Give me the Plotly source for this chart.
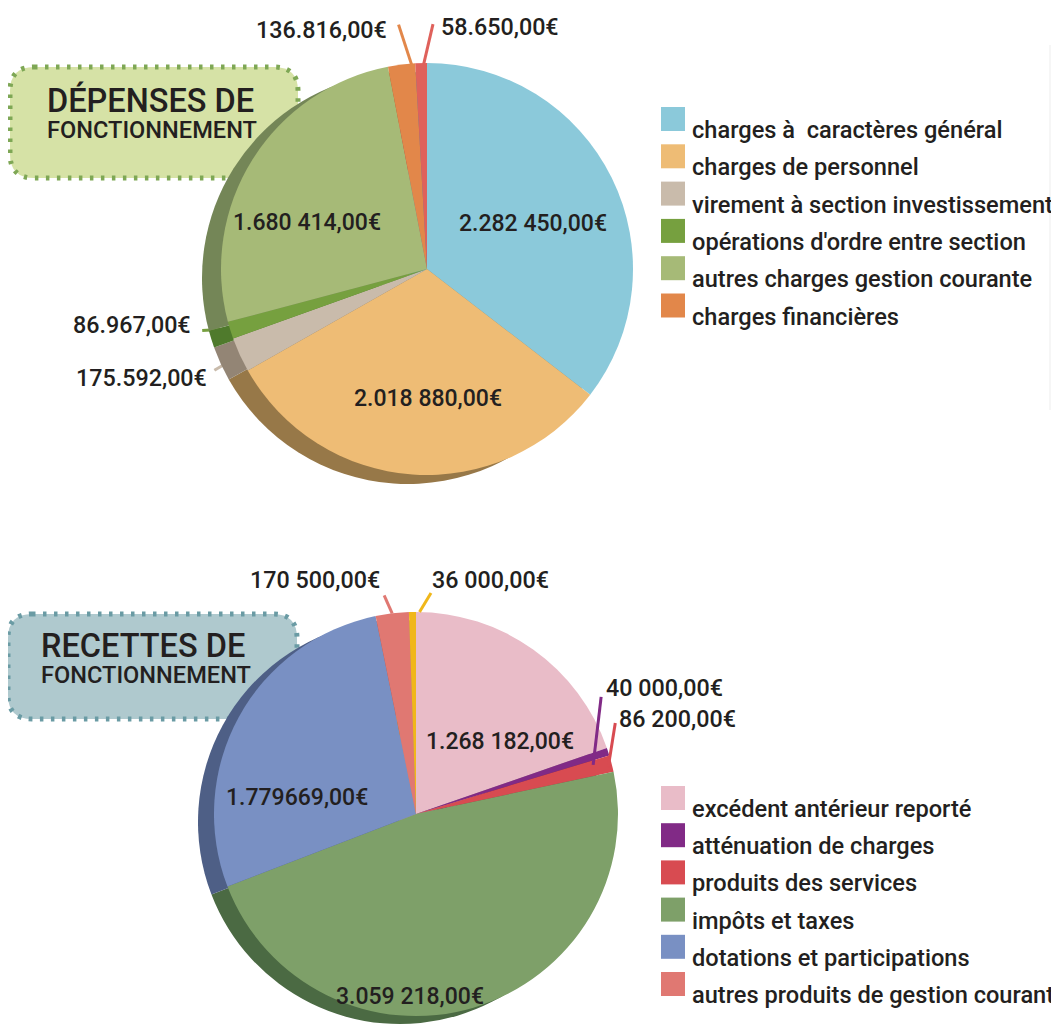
import math
import plotly.graph_objects as go

W, H = 1059, 1028
OFF = 8  # page body margin added by the browser
FONT = "Roboto"
INK = "#231f20"

# ---------------- data ----------------
dep_values = [2282450, 2018880, 175592, 86967, 1680414, 136816, 58650]
dep_texts = ["2.282 450,00€", "2.018 880,00€", "175.592,00€", "86.967,00€",
             "1.680 414,00€", "136.816,00€", "58.650,00€"]
dep_legend = ["charges à  caractères général", "charges de personnel",
              "virement à section investissement", "opérations d'ordre entre section",
              "autres charges gestion courante", "charges financières"]
dep_colors = ["#8bc9da", "#eebc75", "#c9bbab", "#76a03f", "#a6ba77", "#e2874a", "#df615b"]
dep_shadow = ["#5d8d99", "#977848", "#938575", "#4f7a2c", "#748657", "#9a5a31", "#9a4240"]

rec_values = [1268182, 40000, 86200, 3059218, 1779669, 170500, 36000]
rec_texts = ["1.268 182,00€", "40 000,00€", "86 200,00€", "3.059 218,00€",
             "1.779669,00€", "170 500,00€", "36 000,00€"]
rec_legend = ["excédent antérieur reporté", "atténuation de charges",
              "produits des services", "impôts et taxes",
              "dotations et participations", "autres produits de gestion courante"]
rec_colors = ["#e9bcc8", "#812a86", "#d84b51", "#7ea069", "#7990c3", "#e07872", "#f0b71a"]
rec_shadow = ["#a8878f", "#5a1d5e", "#973438", "#4b6a43", "#4e5f86", "#9c5450", "#a8800f"]

dep_title = ["DÉPENSES DE", "FONCTIONNEMENT"]
rec_title = ["RECETTES DE", "FONCTIONNEMENT"]

# ---------------- helpers ----------------
def px(x):
    return (x - OFF) / W


def py(y):
    return 1 - (y - OFF) / H


def dom(cx, cy, r):
    return dict(x=[px(cx - r), px(cx + r)], y=[py(cy + r), py(cy - r)])


def mids(values):
    tot = float(sum(values))
    out, c = [], 0.0
    for v in values:
        out.append(360.0 * (c + v / 2.0) / tot)
        c += v
    return out


def polar(cx, cy, r, ang):
    a = math.radians(ang)
    return cx + r * math.sin(a), cy - r * math.cos(a)


def fnt(size):
    return dict(family=FONT, size=size, color=INK, weight=500)


fig = go.Figure()
shapes = []
annos = []


def rounded_box(x0, y0, x1, y1, rad, fill, dots):
    X = px
    Y = py
    path = (f"M {X(x0+rad)},{Y(y0)} L {X(x1-rad)},{Y(y0)} Q {X(x1)},{Y(y0)} {X(x1)},{Y(y0+rad)} "
            f"L {X(x1)},{Y(y1-rad)} Q {X(x1)},{Y(y1)} {X(x1-rad)},{Y(y1)} "
            f"L {X(x0+rad)},{Y(y1)} Q {X(x0)},{Y(y1)} {X(x0)},{Y(y1-rad)} "
            f"L {X(x0)},{Y(y0+rad)} Q {X(x0)},{Y(y0)} {X(x0+rad)},{Y(y0)} Z")
    shapes.append(dict(type="path", path=path, xref="paper", yref="paper",
                       fillcolor=fill, line=dict(color=dots, width=5, dash="3.5px,7.5px"),
                       layer="below"))


def add_pie(cx, cy, r, soff, values, colors, shadows):
    sx, sy = soff
    fig.add_trace(go.Pie(values=values, sort=False, direction="clockwise", rotation=0,
                         marker=dict(colors=shadows, line=dict(width=0)),
                         textinfo="none", hoverinfo="skip", showlegend=False,
                         domain=dom(cx + sx, cy + sy, r)))
    fig.add_trace(go.Pie(values=values, sort=False, direction="clockwise", rotation=0,
                         marker=dict(colors=colors, line=dict(width=0)),
                         textinfo="none", hoverinfo="skip", showlegend=False,
                         domain=dom(cx, cy, r)))


def inside_labels(cx, cy, r, values, texts, spec, size):
    m = mids(values)
    for i, (dth, rf) in spec.items():
        x, y = polar(cx, cy, r * rf, m[i] + dth)
        annos.append(dict(x=px(x), y=py(y), xref="paper", yref="paper", text=texts[i],
                          showarrow=False, xanchor="center", yanchor="middle",
                          font=fnt(size)))


def outside_labels(cx, cy, r, values, texts, colors, spec, size):
    m = mids(values)
    for i, (dth, rf, ex, ey, tx, ty, anchor, layer) in spec.items():
        x0, y0 = polar(cx, cy, r * rf, m[i] + dth)
        x1, y1 = x0 + ex, y0 + ey
        shapes.append(dict(type="line", xref="paper", yref="paper",
                           x0=px(x0), y0=py(y0), x1=px(x1), y1=py(y1),
                           line=dict(color=colors[i], width=3), layer=layer))
        annos.append(dict(x=px(x1 + tx), y=py(y1 + ty), xref="paper", yref="paper",
                          text=texts[i], showarrow=False, xanchor=anchor, yanchor="middle",
                          font=fnt(size)))


def legend(labels, colors, x0, top0, step, size):
    for i, (lab, col) in enumerate(zip(labels, colors)):
        t = top0 + step * i
        shapes.append(dict(type="rect", xref="paper", yref="paper",
                           x0=px(x0), x1=px(x0 + 24), y0=py(t), y1=py(t + 24),
                           fillcolor=col, line=dict(width=0)))
        annos.append(dict(x=px(x0 + 29), y=py(t + 23), xref="paper", yref="paper",
                          text=lab, showarrow=False, xanchor="left", yanchor="middle",
                          font=fnt(size)))


def title(lines, x, ymid, fill, dots, box):
    rounded_box(*box, 24, fill, dots)
    txt = (f'<span style="font-size:32.5px">{lines[0]}</span><br>'
           f'<span style="font-size:23.6px">{lines[1]}</span>')
    annos.append(dict(x=px(x), y=py(ymid), xref="paper", yref="paper", text=txt,
                      showarrow=False, xanchor="left", yanchor="middle", align="left",
                      font=fnt(20)))


# ---------------- top: dépenses ----------------
DC = (427, 269)
DR = 206
title(dep_title, 45, 113, "#d6e2a6", "#7ea755", (10, 67, 298, 178))
add_pie(DC[0], DC[1], DR, (-19, 9), dep_values, dep_colors, dep_shadow)
inside_labels(DC[0], DC[1], DR, dep_values, dep_texts,
              {0: (3.2, 0.56), 1: (-4.5, 0.63), 4: (-11, 0.625)}, 23)
outside_labels(DC[0], DC[1], DR, dep_values, dep_texts, dep_colors, {
    5: (3.0, 0.98, -14, -43, -10, 5, "right", "below"),
    6: (0.5, 0.98, 10, -43, 6, 3, "left", "below"),
    3: (0.0, 0.97, -34, 2, -9, -5, "right", "below"),
    2: (0.0, 0.97, -31, 18, -5, 8, "right", "below"),
}, 23.3)
legend(dep_legend, dep_colors, 661, 107, 37.3, 23.6)

# ---------------- bottom: recettes ----------------
RC = (416, 814)
RR = 202
title(rec_title, 39, 658, "#afc9ce", "#6a9ba4", (8, 614, 297, 719))
add_pie(RC[0], RC[1], RR, (-16, 8), rec_values, rec_colors, rec_shadow)
inside_labels(RC[0], RC[1], RR, rec_values, rec_texts,
              {0: (13.5, 0.55), 4: (-21, 0.594), 3: (18.4, 0.906)}, 23)
outside_labels(RC[0], RC[1], RR, rec_values, rec_texts, rec_colors, {
    5: (0.0, 1.0, -8, -18, -2, -15, "right", "above"),
    6: (2.0, 1.0, 11.5, -19, -1, -13, "left", "above"),
    1: (2.5, 0.91, 8, -68, 3, -9, "left", "above"),
    2: (0.7, 0.98, 7, -44, 2, -4, "left", "above"),
}, 23.3)
legend(rec_legend, rec_colors, 661, 786, 37.2, 23.6)

# page-edge shadow on the right
shapes.append(dict(type="rect", xref="paper", yref="paper", x0=px(1049), x1=px(1067),
                   y0=py(410), y1=py(45), fillcolor="rgba(0,0,0,0.035)", line=dict(width=0),
                   layer="below"))
shapes.append(dict(type="rect", xref="paper", yref="paper", x0=px(1053), x1=px(1067),
                   y0=py(400), y1=py(55), fillcolor="rgba(0,0,0,0.035)", line=dict(width=0),
                   layer="below"))

fig.update_layout(width=W, height=H, margin=dict(l=0, r=0, t=0, b=0),
                  paper_bgcolor="white", plot_bgcolor="white",
                  shapes=shapes, annotations=annos, showlegend=False)

fig.write_html("out.html")
